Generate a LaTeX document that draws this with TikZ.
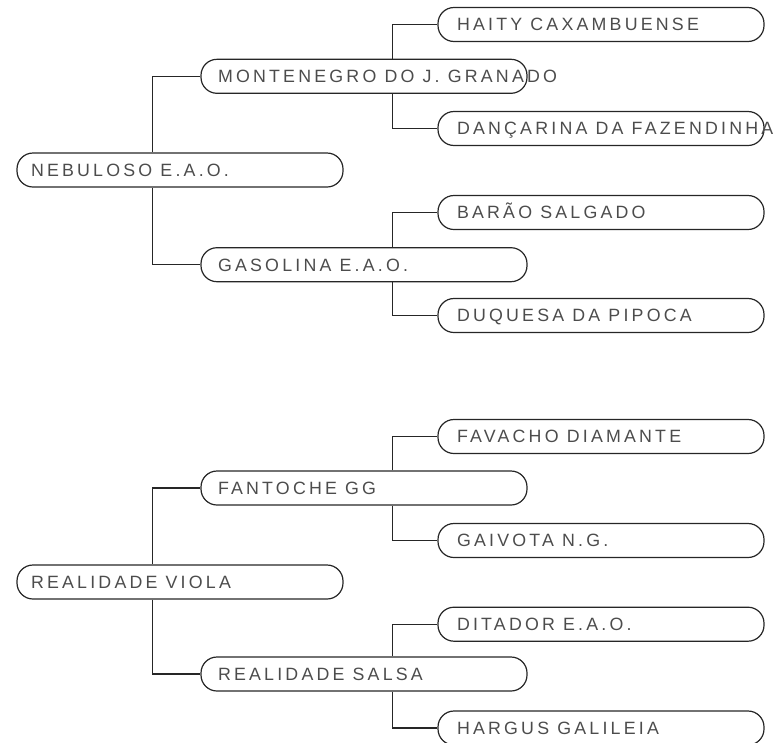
\documentclass[tikz,border=0pt]{standalone}
\usepackage{fontspec}
\setmainfont{Liberation Sans}
\newfontfamily\boxfont[LetterSpace=18]{Liberation Sans}
\newcommand\boxtext[2]{\makebox[326pt][l]{\hspace*{#1}#2}}
\begin{document}
\begin{tikzpicture}[x=1pt,y=-1pt,
  box/.style={draw=black!85, line width=1.2pt, rounded corners=16pt,
    minimum height=34pt, inner xsep=0pt, inner ysep=0pt,
    text height=12.7pt, text depth=0pt, text=black!70,
    font=\boxfont\fontsize{17.8}{20}\selectfont},
  link/.style={draw=black!85, line width=1.2pt}]
\useasboundingbox (0,0) rectangle (776,742);
\clip (0,0) rectangle (776,742);

% top tree
\node[box] (neb) at (180,170) {\boxtext{14pt}{NEBULOSO E.A.O.}};
\node[box] (mont) at (364,76.3) {\boxtext{17pt}{MONTENEGRO DO J. GRANADO}};
\node[box] (haity) at (601,24.5) {\boxtext{19pt}{HAITY CAXAMBUENSE}};
\node[box] (danc) at (601,128.5) {\boxtext{19pt}{DANÇARINA DA FAZENDINHA}};
\node[box] (gas) at (364,264.7) {\boxtext{17pt}{GASOLINA E.A.O.}};
\node[box] (barao) at (601,212.5) {\boxtext{19pt}{BARÃO SALGADO}};
\node[box] (duq) at (601,315.5) {\boxtext{19pt}{DUQUESA DA PIPOCA}};

% bottom tree
\node[box] (rv) at (180,582) {\boxtext{14pt}{REALIDADE VIOLA}};
\node[box] (fant) at (364,488) {\boxtext{17pt}{FANTOCHE GG}};
\node[box] (fav) at (601,436.5) {\boxtext{19pt}{FAVACHO DIAMANTE}};
\node[box] (gai) at (601,540.5) {\boxtext{19pt}{GAIVOTA N.G.}};
\node[box] (salsa) at (364,674) {\boxtext{17pt}{REALIDADE SALSA}};
\node[box] (dit) at (601,624.2) {\boxtext{19pt}{DITADOR E.A.O.}};
\node[box] (harg) at (601,728) {\boxtext{19pt}{HARGUS GALILEIA}};

% connectors
\draw[link] ([xshift=-27.3pt]neb.north) |- (mont.west);
\draw[link] ([xshift=-27.3pt]neb.south) |- (gas.west);
\draw[link] ([xshift=28.3pt]mont.north) |- (haity.west);
\draw[link] ([xshift=28.3pt]mont.south) |- (danc.west);
\draw[link] ([xshift=28.3pt]gas.north) |- (barao.west);
\draw[link] ([xshift=28.3pt]gas.south) |- (duq.west);

\draw[link] ([xshift=-27.3pt]rv.north) |- (fant.west);
\draw[link] ([xshift=-27.3pt]rv.south) |- (salsa.west);
\draw[link] ([xshift=28.3pt]fant.north) |- (fav.west);
\draw[link] ([xshift=28.3pt]fant.south) |- (gai.west);
\draw[link] ([xshift=28.3pt]salsa.north) |- (dit.west);
\draw[link] ([xshift=28.3pt]salsa.south) |- (harg.west);
\end{tikzpicture}
\end{document}
